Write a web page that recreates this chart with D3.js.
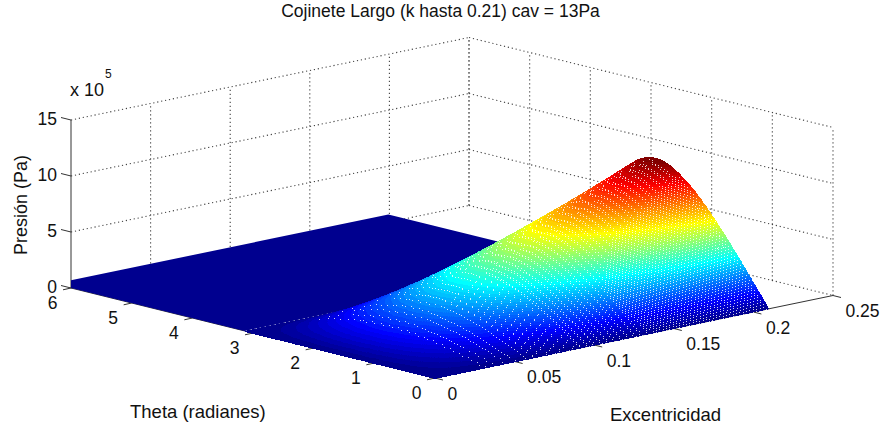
<!DOCTYPE html>
<html><head><meta charset="utf-8">
<script src="https://cdn.jsdelivr.net/npm/d3@7"></script>
<style>html,body{margin:0;background:#fff}svg{display:block}text{font-family:"Liberation Sans",Arial,sans-serif;fill:#111}</style>
</head><body><div id="c"></div>
<script>
const titleText = "Cojinete Largo (k hasta 0.21) cav = 13Pa";
const thetaTicks = [0,1,2,3,4,5,6];
const eccTicks = [0,0.05,0.1,0.15,0.2,0.25];
const eccTickLabels = ["0","0.05","0.1","0.15","0.2","0.25"];
const pressureTicks = [0,5,10,15];
// pressure surface, 1e5 Pa
const thetaGrid = [0,0.25,0.5,0.75,1,1.25,1.5,1.75,2,2.25,2.5,2.75,3,3.14];
const eccGrid = [0,0.03,0.06,0.09,0.12,0.15,0.18,0.21];
const pressure00 = [0,0,0,0,0,0,0,0,0,0,0,0,0,0];
const pressure03 = [0,0.35,0.69,0.99,1.23,1.40,1.49,1.49,1.39,1.20,0.93,0.60,0.22,0];
const pressure06 = [0,0.68,1.33,1.92,2.40,2.76,2.97,2.99,2.83,2.47,1.93,1.25,0.46,0];
const pressure09 = [0,0.98,1.92,2.79,3.52,4.09,4.44,4.53,4.32,3.81,3.00,1.95,0.73,0];
const pressure12 = [0,1.26,2.48,3.61,4.59,5.38,5.90,6.09,5.88,5.24,4.16,2.73,1.02,0];
const pressure15 = [0,1.52,3.00,4.39,5.61,6.63,7.34,7.67,7.50,6.75,5.41,3.57,1.34,0];
const pressure18 = [0,1.77,3.50,5.13,6.60,7.86,8.78,9.28,9.17,8.35,6.76,4.48,1.69,0];
const pressure21 = [0,1.97,3.91,5.78,7.51,9.03,10.2,10.9,10.9,10.1,8.30,5.60,2.10,0];
const pressureRows = [pressure00,pressure03,pressure06,pressure09,pressure12,pressure15,pressure18,pressure21];
// flat cavitated part of the surface
const plateauTheta = [3.14,6.28];
const plateauEcc = [0,0.21];

const W=884,H=426;
const svg=d3.select("#c").append("svg").attr("width",W).attr("height",H);

// oblique projection built from linear scales
const xEcc=d3.scaleLinear().domain([0,0.25]).range([435,833]);
const yEcc=d3.scaleLinear().domain([0,0.25]).range([378,295.5]);
const xTheta=d3.scaleLinear().domain([0,6]).range([0,-364]);
const yTheta=d3.scaleLinear().domain([0,6]).range([0,-90]);
const yZ=d3.scaleLinear().domain([0,15]).range([0,-168]);
const px=(t,e)=>xEcc(e)+xTheta(t);
const py=(t,e,z)=>yEcc(e)+yTheta(t)+yZ(z);

// jet colormap, 64 levels
const jetScale=d3.scaleLinear().domain([0,0.11,0.365,0.62,0.875,1])
  .range(["#00008f","#0000ff","#00ffff","#ffff00","#ff0000","#800000"]).clamp(true);
const jet=d3.range(64).map(i=>jetScale(i/63));
const zMax=d3.max(pressureRows,r=>d3.max(r));
const colorIndex=d3.scaleQuantize().domain([0,zMax]).range(d3.range(64));

function seg(g,a,b,cls){
  g.append("line").attr("x1",a[0]).attr("y1",a[1]).attr("x2",b[0]).attr("y2",b[1]).attr("class",cls);
}
svg.append("style").text(`.g{stroke:#444;stroke-width:1.1;stroke-dasharray:1.2 2.8;fill:none}.a{stroke:#333;stroke-width:1;fill:none}`);

const grid=svg.append("g");
const tMax=thetaTicks[thetaTicks.length-1], eMax=eccTicks[eccTicks.length-1], zTop=pressureTicks[pressureTicks.length-1];
eccTicks.slice(1).forEach(e=>seg(grid,[px(tMax,e),py(tMax,e,0)],[px(tMax,e),py(tMax,e,zTop)],"g"));
thetaTicks.forEach(t=>seg(grid,[px(t,eMax),py(t,eMax,0)],[px(t,eMax),py(t,eMax,zTop)],"g"));
pressureTicks.forEach(z=>{
  seg(grid,[px(tMax,0),py(tMax,0,z)],[px(tMax,eMax),py(tMax,eMax,z)],"g");
  seg(grid,[px(tMax,eMax),py(tMax,eMax,z)],[px(0,eMax),py(0,eMax,z)],"g");
});

// axes
const ax=svg.append("g");
seg(ax,[px(tMax,0),py(tMax,0,0)],[px(tMax,0),py(tMax,0,zTop)],"a");
seg(ax,[px(tMax,0),py(tMax,0,0)],[px(0,0),py(0,0,0)],"a");
seg(ax,[px(0,0),py(0,0,0)],[px(0,eMax),py(0,eMax,0)],"a");
const lab=svg.append("g").style("font-size","17.5px");
pressureTicks.forEach(z=>{
  const x=px(tMax,0),y=py(tMax,0,z);
  seg(ax,[x,y],[x-10,y-2.5],"a");
  lab.append("text").attr("x",57).attr("y",y+5.2).attr("text-anchor","end").text(z);
});
thetaTicks.forEach(t=>{
  const x=px(t,0),y=py(t,0,0);
  seg(ax,[x,y],[x-8,y+1.8],"a");
  lab.append("text").attr("x",x-18.5).attr("y",y+21).attr("text-anchor","middle").text(t);
});
eccTicks.forEach((e,i)=>{
  const x=px(0,e),y=py(0,e,0);
  seg(ax,[x,y],[x+8,y+2],"a");
  lab.append("text").attr("x",x+12.5).attr("y",y+21.5).text(eccTickLabels[i]);
});

// plateau
svg.append("clipPath").attr("id","cp").append("rect").attr("x",71).attr("y",0).attr("width",W).attr("height",H);
const corners=[[plateauTheta[0],plateauEcc[0]],[plateauTheta[1],plateauEcc[0]],[plateauTheta[1],plateauEcc[1]],[plateauTheta[0],plateauEcc[1]]];
svg.append("path").attr("clip-path","url(#cp)").attr("fill",jet[0])
  .attr("d",d3.line()(corners.map(([t,e])=>[px(t,e),py(t,e,0)]))+"Z");

// cubic hermite resampling of the read grid for smooth shading
function herm(xs,ys,x){
  const n=xs.length;
  let i=Math.min(n-2,Math.max(0,d3.bisectRight(xs,x)-1));
  const h=xs[i+1]-xs[i],u=(x-xs[i])/h;
  const tan=k=>k===0?(ys[1]-ys[0])/(xs[1]-xs[0]):k===n-1?(ys[n-1]-ys[n-2])/(xs[n-1]-xs[n-2]):(ys[k+1]-ys[k-1])/(xs[k+1]-xs[k-1]);
  const m0=tan(i),m1=tan(i+1),u2=u*u,u3=u2*u;
  return (2*u3-3*u2+1)*ys[i]+(u3-2*u2+u)*h*m0+(-2*u3+3*u2)*ys[i+1]+(u3-u2)*h*m1;
}
const dT=0.0075,dE=0.00055;
const tS=d3.range(thetaGrid[thetaGrid.length-1],-1e-9,-dT);
const eS=d3.range(0,eccGrid[eccGrid.length-1]+1e-9,dE);
const pix=new Map();
let prevY=null,prevX=null;
tS.forEach(t=>{
  const col=pressureRows.map(r=>herm(thetaGrid,r,t));
  const zs=eS.map(e=>Math.max(0,herm(eccGrid,col,e)));
  const xs=eS.map(e=>px(t,e));
  const ys=eS.map((e,j)=>py(t,e,zs[j]));
  zs.forEach((z,j)=>{
    if(prevY&&j<eS.length-1){
      const ax0=xs[j+1]-xs[j],ay0=ys[j+1]-ys[j],bx=prevX[j]-xs[j],by=prevY[j]-ys[j];
      if(ax0*by-ay0*bx>0) return;
    }
    pix.set(Math.round(xs[j])+Math.round(ys[j])*W,colorIndex(z));
  });
  prevY=ys;prevX=xs;
});
const byColor=d3.range(64).map(()=>[]);
const holes=[];
pix.forEach((c,k)=>{
  const y=Math.floor(k/W),x=k-y*W;
  byColor[c].push(`M${x} ${y}h1v1h-1z`);
  [k+1,k+W].forEach(n=>{
    if(pix.has(n)) return;
    if((pix.has(n+1)&&pix.has(n-1))||(pix.has(n+W)&&pix.has(n-W))) holes.push(n);
  });
});
const surf=svg.append("g").attr("shape-rendering","crispEdges");
surf.append("path").attr("fill","#fff").attr("d",Array.from(new Set(holes)).map(k=>{const y=Math.floor(k/W);return `M${k-y*W} ${y}h1v1h-1z`;}).join(""));
byColor.forEach((p,i)=>{if(p.length)surf.append("path").attr("fill",jet[i]).attr("d",p.join(""));});

// mesh gaps: the original surface lets the white page through as a fine speckle
const zAt=(t,e)=>Math.max(0,herm(eccGrid,pressureRows.map(r=>herm(thetaGrid,r,t)),e));
const gapT=0.024,gapE=0.0021,gapArea=11,h=0.004,he=0.001;
const gaps=new Set();
d3.range(0,150).forEach(i=>{
  const t=i*gapT; if(t>3) return;
  d3.range(0,101).forEach(j=>{
    const e=(j+(i%2)*0.5)*gapE; if(e<0.03||e>0.208) return;
    const z=zAt(t,e),zt=(zAt(t+h,e)-z)/h,ze=(zAt(t,e+he)-z)/he;
    const xt=-364/6,yt=-15-11.2*zt,xe=1592,ye=-330-11.2*ze;
    const J=xt*ye-xe*yt;
    if(J<=15000) return;
    let level=Math.max(1,Math.round(gapArea/(J*gapT*gapE)));
    if(e<0.06) level*=3; else if(e<0.09) level*=2;
    if((i*3+j)%level!==0) return;
    const k=Math.round(px(t,e))+Math.round(py(t,e,z))*W;
    if(pix.has(k)) gaps.add(k);
  });
});
surf.append("path").attr("fill","#fff").attr("fill-opacity",0.8)
  .attr("d",Array.from(gaps).map(k=>{const y=Math.floor(k/W);return `M${k-y*W} ${y}h1v1h-1z`;}).join(""));

// titles
const tg=svg.append("g");
tg.append("text").attr("x",440.5).attr("y",17).attr("text-anchor","middle").style("font-size","17.5px").text(titleText);
tg.append("text").attr("x",70).attr("y",96).style("font-size","18px").text("x 10");
tg.append("text").attr("x",105).attr("y",78).style("font-size","12px").text("5");
tg.append("text").attr("x",130).attr("y",418).style("font-size","18.5px").text("Theta (radianes)");
tg.append("text").attr("x",610).attr("y",421).style("font-size","18.5px").text("Excentricidad");
tg.append("text").attr("transform","translate(27,205) rotate(-90)").attr("text-anchor","middle").style("font-size","18px").text("Presión (Pa)");
</script></body></html>
